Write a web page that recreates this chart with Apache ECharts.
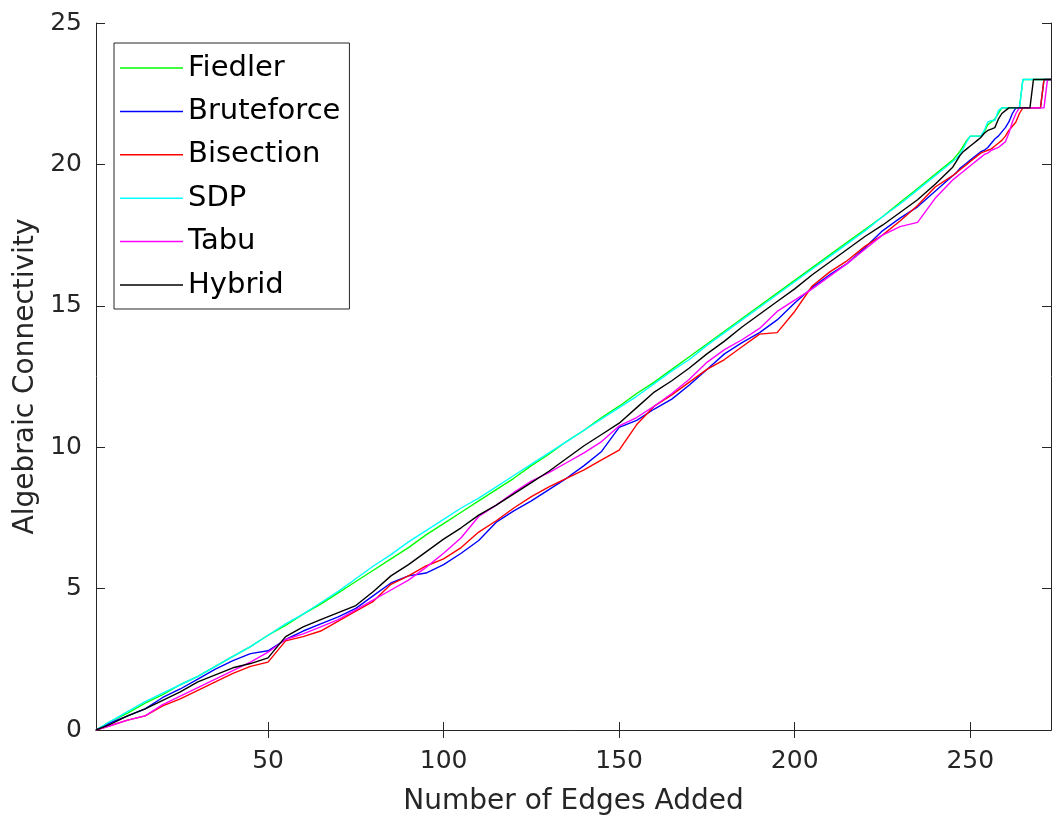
<!DOCTYPE html>
<html>
<head>
<meta charset="utf-8">
<title>Algebraic Connectivity</title>
<style>
  html, body { margin: 0; padding: 0; background: #fff; }
  #chart { width: 1052px; height: 825px; }
</style>
</head>
<body>
<div id="chart"></div>
<script src="https://cdn.jsdelivr.net/npm/echarts@6/dist/echarts.min.js"></script>
<script>
// number of edges added (x), sampled every 5 then every edge near the end
var edgesAdded = [1, 5, 10, 15, 20, 25, 30, 35, 40, 45, 50, 55, 60, 65, 70, 75, 80, 85, 90, 95,
  100, 105, 110, 115, 120, 125, 130, 135, 140, 145, 150, 155, 160, 165, 170, 175, 180, 185, 190, 195,
  200, 205, 210, 215, 220, 225, 230, 235, 240, 245,
  246, 247, 248, 249, 250, 251, 252, 253, 254, 255, 256, 257, 258, 259, 260, 261, 262, 263, 264, 265,
  266, 267, 268, 269, 270, 271, 272, 273];

var fiedler = [0, 0.3, 0.6, 0.95, 1.25, 1.6, 1.9, 2.25, 2.6, 2.95, 3.35, 3.7, 4.1, 4.45, 4.85, 5.25, 5.65, 6.05, 6.45, 6.9,
  7.3, 7.7, 8.1, 8.5, 8.9, 9.35, 9.75, 10.2, 10.6, 11.05, 11.45, 11.9, 12.3, 12.75, 13.2, 13.65, 14.1, 14.55, 15.0, 15.45,
  15.9, 16.35, 16.8, 17.25, 17.7, 18.15, 18.65, 19.15, 19.65, 20.15,
  20.3, 20.45, 20.65, 20.85, 21, 21, 21, 21, 21.15, 21.4, 21.5, 21.6, 21.8, 22, 22, 22, 22, 22, 22, 23,
  23, 23, 23, 23, 23, 23, 23, 23];

var bruteforce = [0, 0.25, 0.5, 0.75, 1.15, 1.45, 1.8, 2.15, 2.45, 2.7, 2.8, 3.2, 3.5, 3.75, 4.0, 4.3, 4.75, 5.2, 5.45, 5.55,
  5.85, 6.25, 6.7, 7.35, 7.75, 8.1, 8.5, 8.9, 9.35, 9.85, 10.7, 10.95, 11.35, 11.7, 12.2, 12.75, 13.3, 13.7, 14.05, 14.5,
  15.1, 15.65, 16.1, 16.5, 17.05, 17.65, 18.1, 18.5, 19.05, 19.6,
  19.7, 19.85, 19.95, 20.05, 20.15, 20.25, 20.35, 20.45, 20.5, 20.6, 20.75, 20.9, 21.0, 21.15, 21.3, 21.5, 21.8, 22, 22, 22,
  22, 22, 22, 22, 22, 23, 23, 23];

var bisection = [0, 0.15, 0.35, 0.5, 0.85, 1.1, 1.4, 1.7, 2.0, 2.25, 2.4, 3.15, 3.3, 3.5, 3.85, 4.2, 4.55, 5.15, 5.45, 5.8,
  6.05, 6.45, 7.0, 7.4, 7.85, 8.25, 8.6, 8.9, 9.2, 9.55, 9.9, 10.8, 11.45, 11.85, 12.3, 12.75, 13.1, 13.55, 14.0, 14.05,
  14.8, 15.7, 16.2, 16.6, 17.1, 17.5, 18.0, 18.55, 19.2, 19.6,
  19.7, 19.8, 19.9, 20.0, 20.1, 20.2, 20.3, 20.4, 20.45, 20.5, 20.55, 20.65, 20.75, 20.85, 21.0, 21.2, 21.35, 21.5, 21.8, 22,
  22, 22, 22, 22, 22, 23, 23, 23];

var sdp = [0, 0.3, 0.65, 1.0, 1.3, 1.6, 1.9, 2.25, 2.6, 2.95, 3.35, 3.75, 4.1, 4.5, 4.9, 5.35, 5.8, 6.2, 6.65, 7.05,
  7.45, 7.85, 8.2, 8.6, 9.0, 9.4, 9.8, 10.2, 10.6, 11.0, 11.4, 11.8, 12.25, 12.7, 13.1, 13.6, 14.05, 14.5, 14.95, 15.4,
  15.85, 16.3, 16.75, 17.2, 17.65, 18.15, 18.6, 19.1, 19.6, 20.1,
  20.2, 20.35, 20.55, 20.8, 21, 21, 21, 21, 21.2, 21.5, 21.55, 21.55, 21.9, 22, 22, 22, 22, 22, 22, 23,
  23, 23, 23, 23, 23, 23, 23, 23];

var tabu = [0, 0.15, 0.35, 0.5, 0.9, 1.2, 1.5, 1.8, 2.1, 2.4, 2.75, 3.2, 3.4, 3.65, 3.9, 4.25, 4.6, 4.95, 5.3, 5.75,
  6.25, 6.8, 7.55, 7.95, 8.4, 8.8, 9.1, 9.45, 9.8, 10.2, 10.75, 11.05, 11.45, 11.9, 12.4, 13.0, 13.45, 13.8, 14.2, 14.8,
  15.2, 15.6, 16.05, 16.5, 17.0, 17.5, 17.8, 17.95, 18.8, 19.45,
  19.55, 19.65, 19.75, 19.85, 19.95, 20.05, 20.15, 20.25, 20.35, 20.4, 20.5, 20.55, 20.6, 20.7, 20.8, 21.1, 21.5, 21.8, 22, 22,
  22, 22, 22, 22, 22, 22, 23, 23];

var hybrid = [0, 0.2, 0.5, 0.75, 1.05, 1.35, 1.7, 1.95, 2.2, 2.35, 2.55, 3.3, 3.65, 3.9, 4.15, 4.4, 4.9, 5.45, 5.85, 6.3,
  6.75, 7.15, 7.6, 7.95, 8.35, 8.75, 9.15, 9.6, 10.05, 10.45, 10.85, 11.4, 11.95, 12.35, 12.8, 13.3, 13.75, 14.25, 14.7, 15.15,
  15.6, 16.1, 16.55, 17.0, 17.45, 17.85, 18.3, 18.75, 19.3, 19.9,
  20.1, 20.3, 20.45, 20.55, 20.65, 20.75, 20.85, 20.95, 21.1, 21.2, 21.25, 21.3, 21.6, 21.8, 21.9, 22, 22, 22, 22, 22,
  22, 22, 23, 23, 23, 23, 23, 23];

var xTicks = [50, 100, 150, 200, 250];

var seriesNames = ['Fiedler', 'Bruteforce', 'Bisection', 'SDP', 'Tabu', 'Hybrid'];
var seriesValues = [fiedler, bruteforce, bisection, sdp, tabu, hybrid];
var seriesColors = ['#00ff00', '#0000ff', '#ff0000', '#00ffff', '#ff00ff', '#000000'];

var axisColor = '#262626';
var font = 'DejaVu Sans';

var chart = echarts.init(document.getElementById('chart'));

var series = seriesNames.map(function (name, i) {
  return {
    name: name,
    type: 'line',
    symbol: 'none',
    showSymbol: false,
    lineStyle: { color: seriesColors[i], width: 1.4 },
    itemStyle: { color: seriesColors[i] },
    data: edgesAdded.map(function (x, j) { return [x, seriesValues[i][j]]; })
  };
});

chart.setOption({
  animation: false,
  backgroundColor: '#fff',
  grid: { left: 96, right: 1, top: 23, bottom: 95 },
  legend: {
    orient: 'vertical',
    left: 114,
    top: 43,
    padding: [10, 9, 9, 6],
    itemGap: 13.4,
    itemWidth: 63,
    itemHeight: 1.5,
    icon: 'rect',
    borderColor: axisColor,
    borderWidth: 1,
    backgroundColor: '#fff',
    textStyle: { fontFamily: font, fontSize: 29, color: '#000', lineHeight: 30 },
    data: seriesNames
  },
  xAxis: [{
    type: 'value',
    min: 1,
    max: 273,
    name: 'Number of Edges Added',
    nameLocation: 'middle',
    nameGap: 58,
    nameTextStyle: { fontFamily: font, fontSize: 28, color: axisColor },
    axisLine: { lineStyle: { color: axisColor, width: 1 } },
    axisTick: { inside: true, length: 8, customValues: xTicks, lineStyle: { color: axisColor } },
    axisLabel: { customValues: xTicks, margin: 19, fontFamily: font, fontSize: 25, color: axisColor },
    splitLine: { show: false }
  }, {
    type: 'value',
    position: 'top',
    min: 1,
    max: 273,
    axisLine: { lineStyle: { color: axisColor, width: 1 } },
    axisTick: { inside: true, length: 8, customValues: xTicks, lineStyle: { color: axisColor } },
    axisLabel: { show: false },
    splitLine: { show: false }
  }],
  yAxis: [{
    type: 'value',
    min: 0,
    max: 25,
    interval: 5,
    name: 'Algebraic Connectivity',
    nameLocation: 'middle',
    nameGap: 52,
    nameTextStyle: { fontFamily: font, fontSize: 28, color: axisColor },
    axisLine: { show: true, lineStyle: { color: axisColor, width: 1 } },
    axisTick: { show: true, inside: true, length: 9, lineStyle: { color: axisColor } },
    axisLabel: { margin: 14, fontFamily: font, fontSize: 25, color: axisColor },
    splitLine: { show: false }
  }, {
    type: 'value',
    position: 'right',
    min: 0,
    max: 25,
    interval: 5,
    axisLine: { show: true, lineStyle: { color: axisColor, width: 1 } },
    axisTick: { show: true, inside: true, length: 9, lineStyle: { color: axisColor } },
    axisLabel: { show: false },
    splitLine: { show: false }
  }],
  series: series
});
</script>
</body>
</html>
